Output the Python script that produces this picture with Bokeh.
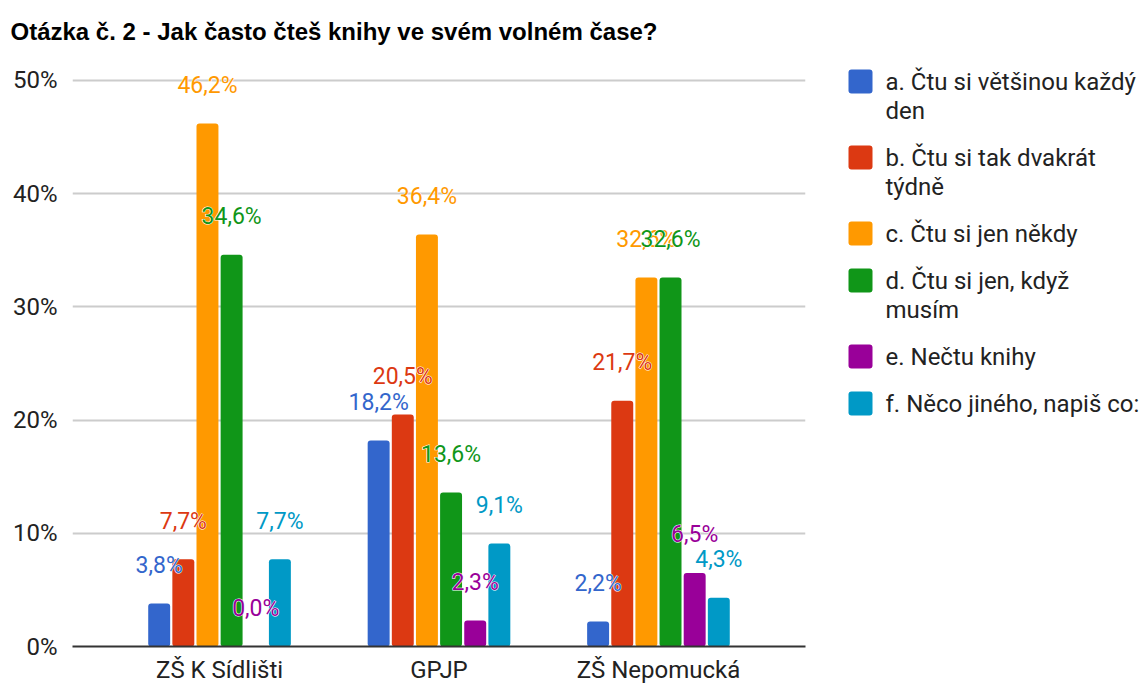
from bokeh.plotting import figure
from bokeh.models import Range1d, FixedTicker, ColumnDataSource
from bokeh.layouts import row
from bokeh.core.properties import value
from bokeh.embed import file_html
from bokeh.resources import INLINE

# ---- data ----
schools = ["ZŠ K Sídlišti", "GPJP", "ZŠ Nepomucká"]
series_names = [
    "a. Čtu si většinou každý den",
    "b. Čtu si tak dvakrát týdně",
    "c. Čtu si jen někdy",
    "d. Čtu si jen, když musím",
    "e. Nečtu knihy",
    "f. Něco jiného, napiš co:",
]
legend_lines = [
    ["a. Čtu si většinou každý", "den"],
    ["b. Čtu si tak dvakrát", "týdně"],
    ["c. Čtu si jen někdy"],
    ["d. Čtu si jen, když", "musím"],
    ["e. Nečtu knihy"],
    ["f. Něco jiného, napiš co:"],
]
a_vals = [3.8, 18.2, 2.2]
b_vals = [7.7, 20.5, 21.7]
c_vals = [46.2, 36.4, 32.6]
d_vals = [34.6, 13.6, 32.6]
e_vals = [0.0, 2.3, 6.5]
f_vals = [7.7, 9.1, 4.3]
y_ticks = [0, 10, 20, 30, 40, 50]
title_text = "Otázka č. 2 - Jak často čteš knihy ve svém volném čase?"

all_vals = [a_vals, b_vals, c_vals, d_vals, e_vals, f_vals]
colors = ["#3366cc", "#dc3912", "#ff9900", "#109618", "#990099", "#0099c6"]

FONT = "Roboto"
TXT = "#222222"
H = 686
TOP = 46      # frame top (px)
BOTTOM = 40   # space below frame (px)

p = figure(width=828, height=H, x_range=Range1d(-0.67, 2.67), y_range=Range1d(0, 53),
           output_backend="svg", toolbar_location=None,
           min_border_left=72, min_border_right=23, min_border_top=TOP, min_border_bottom=BOTTOM)
p.outline_line_color = None
p.background_fill_color = "white"
p.border_fill_color = "white"

p.title.text = title_text
p.title.text_font = "Liberation Sans"
p.title.text_font_style = "bold"
p.title.text_font_size = "24px"
p.title.text_color = "#000000"
p.title.standoff = 4
p.title.offset = -62

p.xgrid.visible = False
p.ygrid.grid_line_color = "#cccccc"
p.ygrid.grid_line_width = 2
p.ygrid.ticker = FixedTicker(ticks=y_ticks)

p.yaxis.ticker = FixedTicker(ticks=y_ticks)
p.yaxis.major_label_overrides = {t: f"{t}%" for t in y_ticks}
p.yaxis.axis_line_color = None
p.yaxis.major_tick_line_color = None
p.yaxis.minor_tick_line_color = None
p.yaxis.major_tick_out = 0
p.yaxis.major_tick_in = 0
p.yaxis.major_label_text_font = FONT
p.yaxis.major_label_text_font_size = "24px"
p.yaxis.major_label_text_color = TXT
p.yaxis.major_label_standoff = 15

p.xaxis.ticker = FixedTicker(ticks=list(range(len(schools))))
p.xaxis.major_label_overrides = {i: s for i, s in enumerate(schools)}
p.xaxis.axis_line_color = "#333333"
p.xaxis.axis_line_width = 2
p.xaxis.major_tick_line_color = None
p.xaxis.minor_tick_line_color = None
p.xaxis.major_tick_out = 0
p.xaxis.major_tick_in = 0
p.xaxis.major_label_text_font = FONT
p.xaxis.major_label_text_font_size = "24px"
p.xaxis.major_label_text_color = TXT
p.xaxis.major_label_standoff = 9

step = 0.11
bw = 0.10
n = len(all_vals)
sources = []
for i, (vals, col) in enumerate(zip(all_vals, colors)):
    xs = [k + (i - (n - 1) / 2) * step for k in range(len(schools))]
    labels = [f"{v:.1f}".replace(".", ",") + "%" for v in vals]
    src = ColumnDataSource(dict(x=xs, top=vals, label=labels))
    sources.append(src)
    p.vbar(x="x", top="top", bottom=0, width=bw, source=src, fill_color=col,
           line_color=None, border_radius=3)

for src, col in zip(sources, colors):
    # white halo underneath, coloured text on top
    p.text(x="x", y="top", text="label", source=src, text_color="white",
           text_font=value(FONT), text_font_size="23px", text_align="center",
           text_baseline="middle", y_offset=-38, text_outline_color="white")
    p.text(x="x", y="top", text="label", source=src, text_color=col,
           text_font=value(FONT), text_font_size="23px", text_align="center",
           text_baseline="middle", y_offset=-38)

# ---- legend (pixel coordinates: y = distance from top of page) ----
lf = figure(width=320, height=H, x_range=Range1d(0, 320), y_range=Range1d(H - BOTTOM, TOP),
            output_backend="svg", toolbar_location=None, x_axis_type=None, y_axis_type=None,
            min_border_left=0, min_border_right=0, min_border_top=TOP, min_border_bottom=BOTTOM)
lf.outline_line_color = None
lf.grid.visible = False

sq = dict(l=[], r=[], t=[], b=[], c=[])
tx = dict(x=[], y=[], t=[])
y = 81
line_h = 29
for lines, col in zip(legend_lines, colors):
    sq["l"].append(20); sq["r"].append(44)
    sq["t"].append(y - 12); sq["b"].append(y + 12); sq["c"].append(col)
    for j, ln in enumerate(lines):
        tx["x"].append(57); tx["y"].append(y + j * line_h); tx["t"].append(ln)
    y += 47 + line_h * (len(lines) - 1)

lf.quad(left="l", right="r", top="t", bottom="b", fill_color="c", line_color=None,
        border_radius=3, source=ColumnDataSource(sq))
lf.text(x="x", y="y", text="t", source=ColumnDataSource(tx), text_color=TXT,
        text_font=value(FONT), text_font_size="24px", text_baseline="middle", text_align="left")

layout = row(p, lf)
open("out.html", "w").write(file_html(layout, INLINE))
